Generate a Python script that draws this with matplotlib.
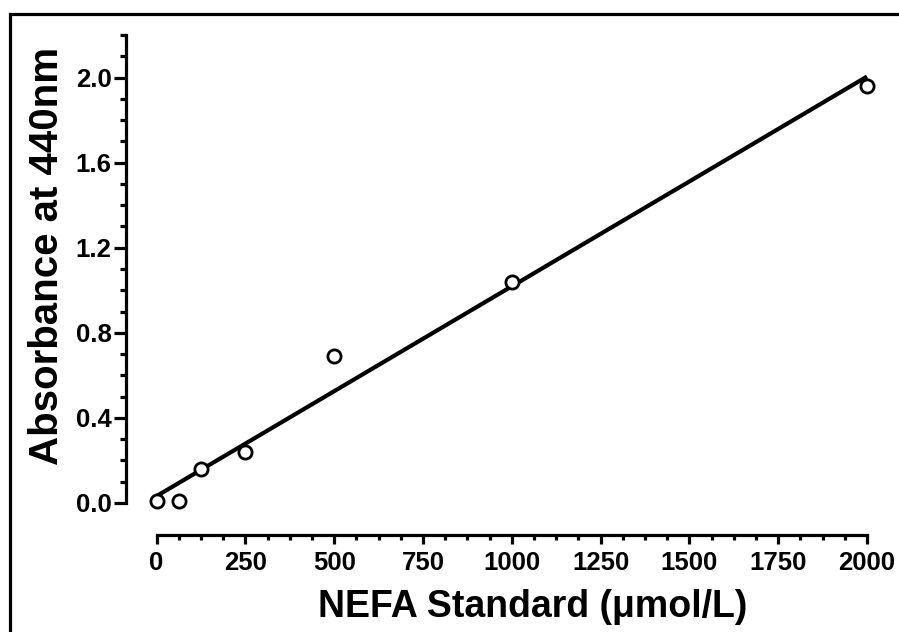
import numpy as np
import matplotlib
matplotlib.use("Agg")
import matplotlib.pyplot as plt
from matplotlib.patches import Rectangle
from matplotlib.ticker import MultipleLocator, FixedLocator

# dados da curva padrão
nefa = [0, 62.5, 125, 250, 500, 1000, 2000]
absorb = [0.01, 0.01, 0.16, 0.24, 0.69, 1.04, 1.96]
xticks = [0, 250, 500, 750, 1000, 1250, 1500, 1750, 2000]
yticks = [0.0, 0.4, 0.8, 1.2, 1.6, 2.0]

# regressão linear
slope, intercept = np.polyfit(nefa, absorb, 1)
xfit = np.array([0, 2000])
yfit = slope * xfit + intercept

label_font = ["Liberation Sans", "DejaVu Sans"]

fig = plt.figure(figsize=(8.99, 6.32), dpi=100)
ax = fig.add_axes([126 / 899, 129 / 632, 741 / 899, 468 / 632])

ax.plot(xfit, yfit, color="black", lw=3, solid_capstyle="butt", clip_on=False)
ax.plot(nefa, absorb, "o", ms=9.5, mfc="white", mec="black", mew=2, clip_on=False)

ax.set_xlim(-86, 2000)
ax.set_ylim(0, 2.2)

for s in ["top", "right"]:
    ax.spines[s].set_visible(False)
ax.spines["left"].set_linewidth(2.3)
ax.spines["bottom"].set_linewidth(2.3)
ax.spines["left"].set_bounds(0, 2.2)
ax.spines["bottom"].set_bounds(0, 2000)
ax.spines["bottom"].set_position(("outward", 23))

ax.set_xticks(xticks)
ax.set_xticklabels([str(v) for v in xticks])
ax.set_yticks(yticks)
ax.set_yticklabels([f"{v:.1f}" for v in yticks])
ax.xaxis.set_minor_locator(FixedLocator(np.arange(0, 2001, 62.5)))
ax.yaxis.set_minor_locator(MultipleLocator(0.1))

ax.tick_params(axis="y", which="major", length=8.5, width=2.3, pad=2)
ax.tick_params(axis="y", which="minor", length=4.5, width=2.3)
ax.tick_params(axis="x", which="major", length=6.5, width=2.3, pad=5)
ax.tick_params(axis="x", which="minor", length=3.8, width=2.3)

for lab in ax.get_xticklabels() + ax.get_yticklabels():
    lab.set_family(label_font)
    lab.set_fontweight("bold")
    lab.set_fontsize(18.5)

fig.text(47 / 899, 1 - 256 / 632, "Absorbance at 440nm", rotation=90,
         ha="center", va="center", fontsize=29, fontweight="bold", family=label_font)
fig.text(533 / 899, 1 - 607 / 632, "NEFA Standard (μmol/L)",
         ha="center", va="center", fontsize=27, fontweight="bold", family=label_font)

# moldura externa
fig.patches.append(Rectangle((10 / 899, -0.2), 1.2, 0.2 + (632 - 14) / 632,
                             transform=fig.transFigure, fill=False,
                             lw=2.3, edgecolor="black"))

fig.savefig("out.png", dpi=100)
